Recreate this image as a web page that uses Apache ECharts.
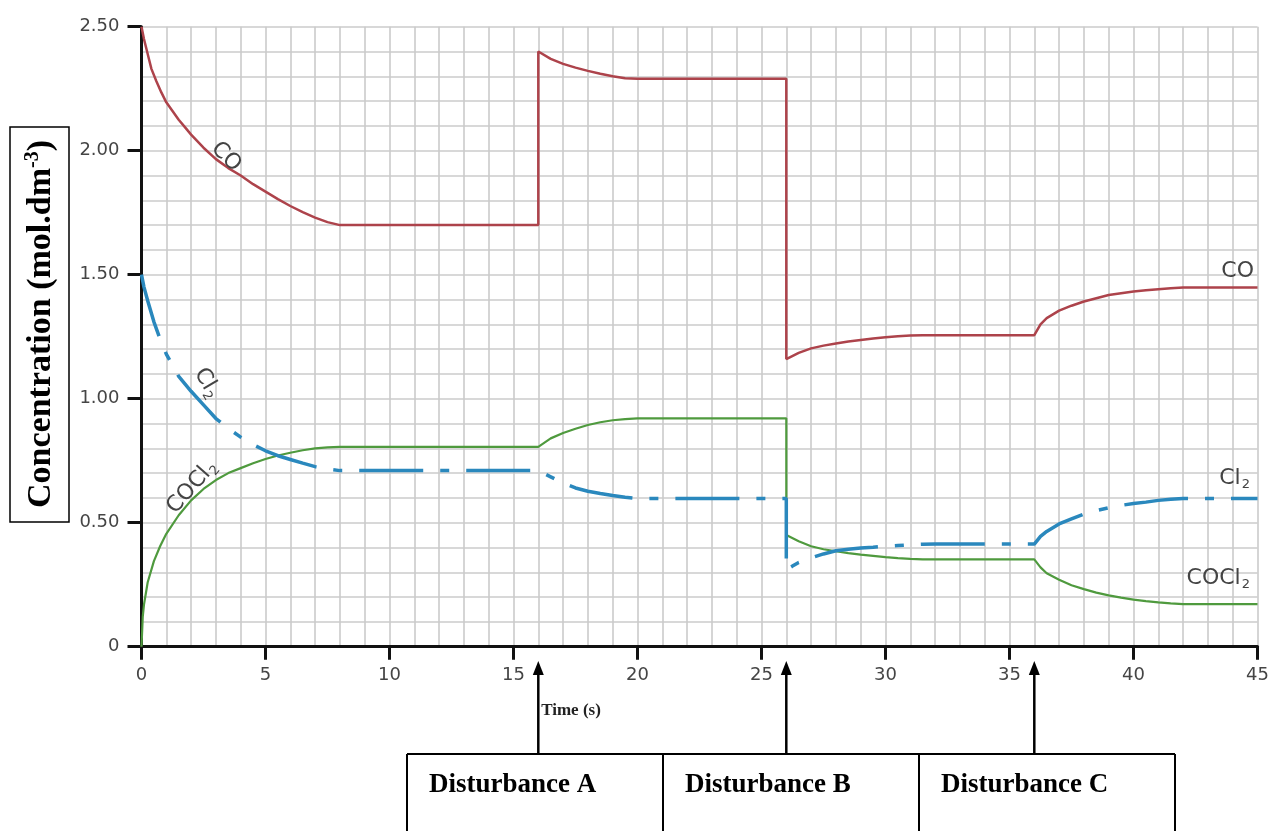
<!DOCTYPE html>
<html><head><meta charset="utf-8">
<script src="https://cdn.jsdelivr.net/npm/echarts@6/dist/echarts.min.js"></script>
<style>html,body{margin:0;padding:0;background:#fff}#c{width:1278px;height:831px}</style>
</head><body><div id="c"></div>
<script>
// ---- data ----
const coTime  = [0,0.1,0.2,0.3,0.4,0.6,0.8,1,1.25,1.5,1.75,2,2.5,3,3.5,4,4.5,5,5.5,6,6.5,7,7.5,8,16,16,16.5,17,17.5,18,18.5,19,19.5,20,26,26,26.5,27,27.5,28,28.5,29,29.5,30,30.5,31,31.5,36,36.25,36.5,37,37.5,38,38.5,39,39.5,40,40.5,41,41.5,42,45];
const coConc  = [2.50,2.45,2.41,2.37,2.33,2.28,2.235,2.195,2.16,2.125,2.095,2.065,2.012,1.966,1.93,1.90,1.865,1.835,1.805,1.777,1.752,1.73,1.712,1.70,1.70,2.40,2.37,2.35,2.335,2.322,2.31,2.30,2.292,2.29,2.29,1.16,1.185,1.203,1.214,1.223,1.231,1.237,1.243,1.248,1.252,1.255,1.256,1.256,1.30,1.325,1.355,1.375,1.392,1.405,1.418,1.425,1.432,1.437,1.441,1.445,1.448,1.448];

const cl2Time = [0,0.1,0.25,0.5,0.75,1,1.5,2,2.5,3,3.5,4,4.5,5,5.5,6,6.5,7,7.5,8,16,16.5,17,17.5,18,18.5,19,19.5,20,26,26,26.25,26.5,27,27.5,28,28.5,29,29.5,30,30.5,31,31.5,32,36,36.25,36.5,37,37.5,38,38.5,39,39.5,40,40.5,41,41.5,42,45];
const cl2Conc = [1.50,1.45,1.395,1.31,1.24,1.18,1.09,1.03,0.975,0.92,0.88,0.845,0.815,0.79,0.77,0.755,0.74,0.726,0.716,0.71,0.71,0.685,0.66,0.64,0.627,0.618,0.61,0.603,0.598,0.598,0.31,0.325,0.34,0.358,0.374,0.387,0.393,0.398,0.401,0.405,0.408,0.411,0.413,0.414,0.414,0.445,0.465,0.495,0.515,0.535,0.549,0.56,0.57,0.577,0.583,0.59,0.595,0.598,0.598];

const cocl2Time = [0,0.05,0.1,0.25,0.5,0.75,1,1.5,2,2.5,3,3.5,4,4.5,5,5.5,6,6.5,7,7.5,8,16,16.5,17,17.5,18,18.5,19,19.5,20,26,26,26.5,27,27.5,28,28.5,29,29.5,30,30.5,31,31.5,36,36.25,36.5,37,37.5,38,38.5,39,39.5,40,40.5,41,41.5,42,45];
const cocl2Conc = [0,0.12,0.17,0.26,0.345,0.405,0.455,0.53,0.59,0.636,0.672,0.70,0.72,0.74,0.757,0.771,0.782,0.792,0.80,0.804,0.806,0.806,0.84,0.862,0.879,0.894,0.905,0.913,0.918,0.921,0.921,0.45,0.425,0.405,0.393,0.385,0.377,0.371,0.366,0.361,0.357,0.354,0.352,0.352,0.32,0.296,0.27,0.248,0.232,0.218,0.207,0.198,0.19,0.184,0.179,0.175,0.172,0.172];

const disturbanceTimes = [16, 26, 36];
const disturbanceNames = ['Disturbance A', 'Disturbance B', 'Disturbance C'];
const xTitle = 'Time (s)';
const yTitleMain = 'Concentration (mol.dm';
const yTitleSup = '-3';

// ---- chart ----
const chart = echarts.init(document.getElementById('c'), null, {renderer: 'canvas'});
const pairs = (t, c) => t.map((x, i) => [x, c[i]]);
const gridCol = '#cbcbcb';
const lblStyle = {color: '#454545', fontFamily: 'DejaVu Sans', fontSize: 18};

chart.setOption({
  animation: false,
  backgroundColor: '#fff',
  grid: {left: 141.5, right: 20.5, top: 26.7, bottom: 184.3, containLabel: false},
  xAxis: {
    type: 'value', min: 0, max: 45, interval: 5,
    axisLine: {show: true, onZero: false, lineStyle: {color: '#111', width: 3}},
    axisTick: {show: true, length: 13, lineStyle: {color: '#111', width: 3}},
    axisLabel: Object.assign({margin: 20}, lblStyle),
    splitLine: {show: true, lineStyle: {color: gridCol, width: 1.6}},
    minorTick: {show: false, splitNumber: 5},
    minorSplitLine: {show: true, lineStyle: {color: gridCol, width: 1.6}}
  },
  yAxis: {
    type: 'value', min: 0, max: 2.5, interval: 0.5,
    axisLine: {show: true, onZero: false, lineStyle: {color: '#111', width: 3}},
    axisTick: {show: true, length: 14, lineStyle: {color: '#111', width: 3}},
    axisLabel: Object.assign({margin: 22, formatter: v => v === 0 ? '0' : v.toFixed(2)}, lblStyle),
    splitLine: {show: true, lineStyle: {color: gridCol, width: 1.6}},
    minorTick: {show: false, splitNumber: 5},
    minorSplitLine: {show: true, lineStyle: {color: gridCol, width: 1.6}}
  },
  series: [
    {name: 'CO', type: 'line', data: pairs(coTime, coConc), showSymbol: false, symbol: 'none', smooth: false, z: 3,
     lineStyle: {color: '#ad434b', width: 2.5}},
    {name: 'COCl2', type: 'line', data: pairs(cocl2Time, cocl2Conc), showSymbol: false, symbol: 'none', smooth: false, z: 3,
     lineStyle: {color: '#4f9a3e', width: 2.2}},
    {name: 'Cl2', type: 'line', data: pairs(cl2Time, cl2Conc), showSymbol: false, symbol: 'none', smooth: false, z: 4,
     lineStyle: {color: '#2a88bd', width: 3.5, type: [64, 17, 9, 17], cap: 'butt'}}
  ]
});

// ---- annotations ----
const lab = (x, y, rot, textMain, sub, align) => ({
  type: 'text', x: x, y: y, rotation: rot || 0, z: 10,
  style: {
    text: sub ? '{m|' + textMain + '}{s|' + sub + '}' : '{m|' + textMain + '}',
    align: align || 'center', verticalAlign: 'middle',
    rich: {
      m: {fontFamily: 'DejaVu Sans', fontSize: 22, fill: '#444', color: '#444'},
      s: {fontFamily: 'DejaVu Sans', fontSize: 13, fill: '#444', color: '#444', padding: [13, 0, 0, 1]}
    }
  }
});

const g = [];
// curve labels
g.push(lab(226, 157, -Math.PI / 4, 'CO'));
g.push(lab(207, 383, -Math.PI * 0.33, 'Cl', '2'));
g.push(lab(192, 487, Math.PI * 0.27, 'COCl', '2'));
g.push(lab(1254, 271, 0, 'CO', null, 'right'));
g.push(lab(1250, 478, 0, 'Cl', '2', 'right'));
g.push(lab(1250, 578, 0, 'COCl', '2', 'right'));

// y-axis title box
g.push({type: 'rect', shape: {x: 10, y: 127, width: 59, height: 395}, style: {fill: '#fff', stroke: '#000', lineWidth: 1.5}, z: 10});
g.push({
  type: 'text', x: 41, y: 324, rotation: Math.PI / 2, z: 11,
  style: {
    text: '{m|' + yTitleMain + '}{s|' + yTitleSup + '}{m|)}',
    align: 'center', verticalAlign: 'middle',
    rich: {
      m: {fontFamily: 'Liberation Serif', fontWeight: 'bold', fontSize: 34, fill: '#000', color: '#000'},
      s: {fontFamily: 'Liberation Serif', fontWeight: 'bold', fontSize: 20, fill: '#000', color: '#000', padding: [0, 0, 16, 0]}
    }
  }
});

// x title
g.push({type: 'text', x: 571, y: 711, z: 10, style: {text: xTitle, align: 'center', verticalAlign: 'middle',
  fontFamily: 'Liberation Serif', fontWeight: 'bold', fontSize: 17, fill: '#222'}});

// disturbance table
const tblTop = 754, tblLeft = 407, tblRight = 1175, colW = (tblRight - tblLeft) / 3;
g.push({type: 'line', shape: {x1: tblLeft, y1: tblTop, x2: tblRight, y2: tblTop}, style: {stroke: '#000', lineWidth: 2}, z: 10});
for (let i = 0; i <= 3; i++) {
  const x = tblLeft + colW * i;
  g.push({type: 'line', shape: {x1: x, y1: tblTop, x2: x, y2: 840}, style: {stroke: '#000', lineWidth: 2}, z: 10});
}
disturbanceNames.forEach((n, i) => {
  g.push({type: 'text', x: tblLeft + colW * i + 22, y: 785, z: 10, style: {text: n, align: 'left', verticalAlign: 'middle',
    fontFamily: 'Liberation Serif', fontWeight: 'bold', fontSize: 27, fill: '#000'}});
});
// arrows at disturbance times
disturbanceTimes.forEach(t => {
  const p = chart.convertToPixel({gridIndex: 0}, [t, 0]);
  const x = p[0];
  g.push({type: 'line', shape: {x1: x, y1: tblTop, x2: x, y2: 672}, style: {stroke: '#000', lineWidth: 2.5}, z: 10});
  g.push({type: 'polygon', shape: {points: [[x, 661], [x - 5.5, 675], [x + 5.5, 675]]}, style: {fill: '#000'}, z: 10});
});

chart.setOption({graphic: g});
</script>
</body></html>
